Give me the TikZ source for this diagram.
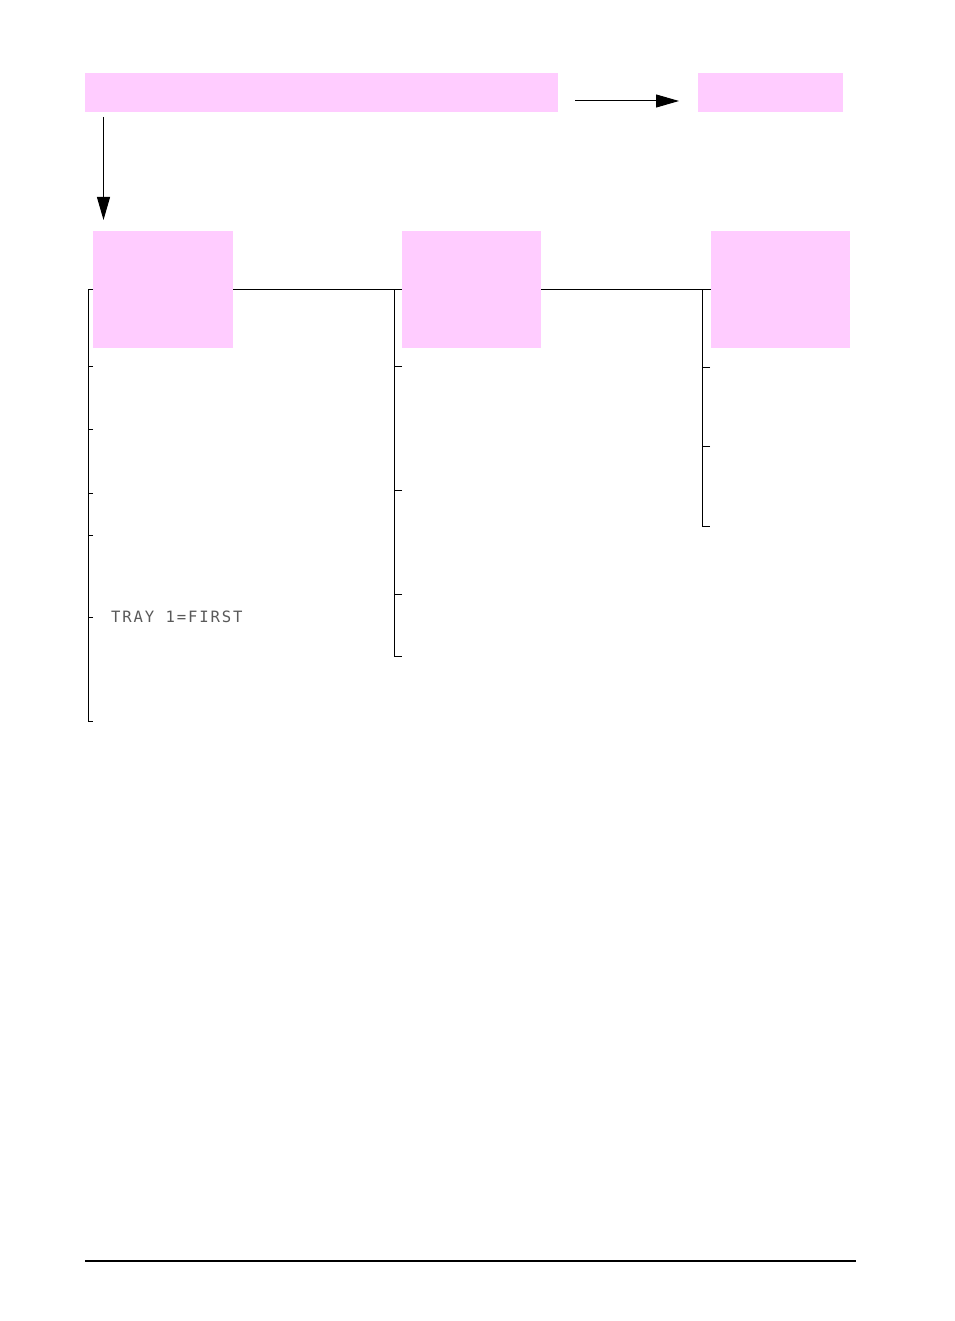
\documentclass[tikz,border=0pt]{standalone}
\usepackage{fontspec}
\usetikzlibrary{arrows.meta}
\newfontfamily\lcdfont[LetterSpace=12]{DejaVu Sans Mono}
\definecolor{pinkfill}{RGB}{255,204,255}
\begin{document}
\begin{tikzpicture}[x=1pt,y=-1pt,
  pinkbox/.style={fill=pinkfill,draw=none,inner sep=0pt,outer sep=0pt,anchor=north west},
  conn/.style={draw=black,line width=1pt},
  arr/.style={draw=black,line width=1pt,-{Triangle[length=23pt,width=13pt]}},
  lcd/.style={font=\lcdfont\fontsize{15.6}{18}\selectfont,text=black!65,inner sep=0pt,anchor=base west}]
\useasboundingbox (0,0) rectangle (954,1321);
% boxes
\node[pinkbox,minimum width=473pt,minimum height=39pt] (top) at (85,73) {};
\node[pinkbox,minimum width=145pt,minimum height=39pt] (res) at (698,73) {};
\node[pinkbox,minimum width=140pt,minimum height=117pt] (b1) at (93,231) {};
\node[pinkbox,minimum width=139pt,minimum height=117pt] (b2) at (402,231) {};
\node[pinkbox,minimum width=139pt,minimum height=117pt] (b3) at (711,231) {};
% arrows
\draw[arr] ([xshift=17pt,yshift=-8.5pt]top.east) -- ([xshift=-19pt,yshift=-8.5pt]res.west);
\draw[arr] ([xshift=18.5pt,yshift=-5pt]top.south west) -- ([xshift=10.5pt,yshift=11pt]b1.north west);
% horizontal links
\draw[conn] (b1.east) -- (b2.west);
\draw[conn] (b2.east) -- (b3.west);
% left bracket
\coordinate (la) at (93,366);
\coordinate (lb) at (93,429);
\coordinate (lc) at (93,493);
\coordinate (ld) at (93,535);
\coordinate (le) at (93,617);
\coordinate (lf) at (93,721);
\coordinate (ls) at (88,289.5);
\draw[conn] (b1.west) -- (ls) |- (lf);
\foreach \c in {la,lb,lc,ld,le} \draw[conn] (\c) -- (\c -| ls);
% middle bracket
\coordinate (ma) at (402,366);
\coordinate (mb) at (402,490);
\coordinate (mc) at (402,594);
\coordinate (md) at (402,656);
\coordinate (ms) at (394.3,289.5);
\draw[conn] (ms) |- (md);
\foreach \c in {ma,mb,mc} \draw[conn] (\c) -- (\c -| ms);
% right bracket
\coordinate (ra) at (710,367);
\coordinate (rb) at (710,446);
\coordinate (rc) at (710,526);
\coordinate (rs) at (702.3,289.5);
\draw[conn] (rs) |- (rc);
\foreach \c in {ra,rb} \draw[conn] (\c) -- (\c -| rs);
% text
\node[lcd] (tray) at (111,622) {TRAY 1=FIRST};
% footer rule
\coordinate (fa) at (85,1261);
\coordinate (fb) at (856,1261);
\draw[line width=2pt] (fa) -- (fb);
\end{tikzpicture}
\end{document}
